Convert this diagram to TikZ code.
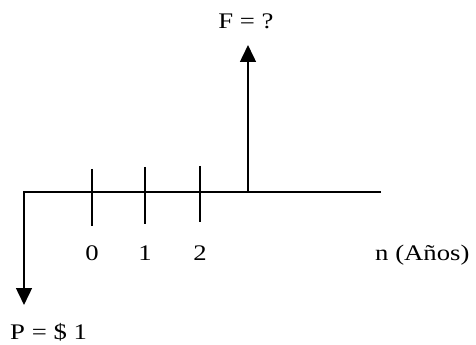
\documentclass[tikz,border=0pt]{standalone}
\usepackage{fontspec}
\setmainfont{Liberation Serif}[FakeStretch=1.2]
\usetikzlibrary{arrows.meta}
\tikzset{
  axln/.style={line width=1.8pt},
  tick/.style={line width=1.8pt},
  flow/.style={line width=1.8pt,-{Triangle[length=14.5pt,width=13.5pt]}}, % cash flow arrow
  lbl/.style={font=\fontsize{19}{22}\selectfont,inner sep=0pt},
}

\begin{document}
\begin{tikzpicture}[x=0.03cm,y=-0.03cm]
  \useasboundingbox (0,0) rectangle (476,345);
  \coordinate (o) at (24,192);
  \coordinate (e) at (381,192);
  \coordinate (pend) at (24,305);
  \coordinate (fbase) at (248,192);
  \coordinate (ftip) at (248,45);
  % time line and the two flows
  \draw[flow] (e) -- (o) -- (pend);
  \draw[flow] (fbase) -- (ftip);
  \foreach \x/\t/\b/\l in {92/169/226/0,145/167/224/1,200/166/222/2}{
    \coordinate (ta\l) at (\x,\t);
    \coordinate (tb\l) at (\x,\b);
    \draw[tick] (ta\l) -- (tb\l);
    \node[lbl,anchor=base] (per\l) at (\x,261) {\l};
  }
  \node[lbl,anchor=base west] (nyr) at (375,261) {n (Años)};
  \node[lbl,anchor=base] (fval) at (246,29) {F = ?};
  \node[lbl,anchor=base west] (pval) at (10,339) {P = \$ 1};
\end{tikzpicture}
\end{document}
